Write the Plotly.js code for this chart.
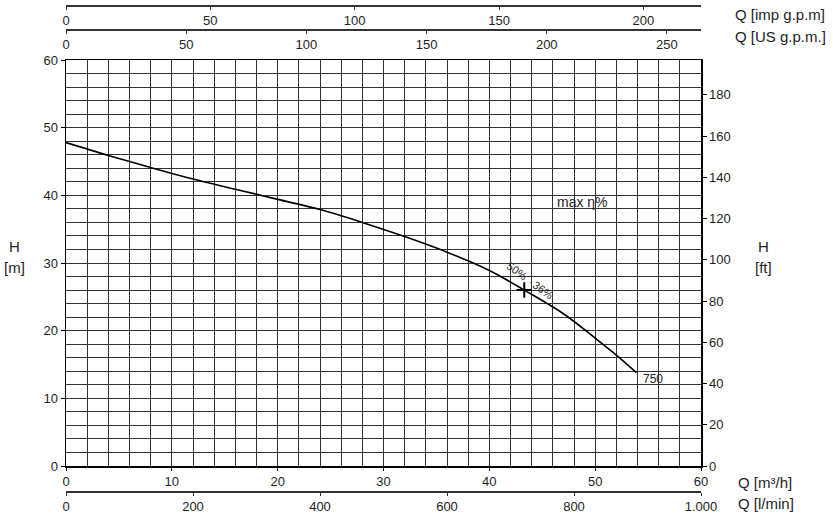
<!DOCTYPE html>
<html>
<head>
<meta charset="utf-8">
<script src="https://cdn.plot.ly/plotly-3.0.1.min.js"></script>
<style>html,body{margin:0;padding:0;background:#fff}#chart{width:833px;height:514px}</style>
</head>
<body>
<div id="chart"></div>
<script>
// Pump curve data (Q in m3/h, H in m)
var flowQ = [0, 4, 8, 12, 16, 20, 24, 28, 32, 36, 40, 43.3, 47, 50, 52, 53.9];
var headH = [47.8, 45.9, 44.1, 42.4, 40.9, 39.4, 37.9, 36.0, 33.9, 31.6, 28.9, 26.0, 22.5, 18.9, 16.4, 13.8];
var bepQ = [43.3];
var bepH = [26.0];

// Axis ranges / tick labels
var qMax = 60;            // m3/h
var hMax = 60;            // m
var ftMax = 60 * 3.28084; // ft
var impMax = 60 * 1000 / 60 / 4.54609; // imp gpm at 60 m3/h
var usMax = 60 * 1000 / 60 / 3.78541;  // US gpm at 60 m3/h
var lminMax = 1000;
var impTicks = [0, 50, 100, 150, 200];
var usTicks = [0, 50, 100, 150, 200, 250];
var lminTicks = [0, 200, 400, 600, 800, 1000];
var lminTickText = ['0', '200', '400', '600', '800', '1.000'];
var ftTicks = [0, 20, 40, 60, 80, 100, 120, 140, 160, 180];

var W = 833, H = 514, L = 66, R = 132;
function px(x) { return (x - L) / (W - L - R); }
function py(y) { return (H - y) / H; }

var FONT = 'Liberation Sans, Arial, Helvetica, sans-serif';
var TXT = '#1e1e24';
var GRID = '#333333';
var tickFont = {family: FONT, size: 13, color: TXT};

var traces = [
  {x: flowQ, y: headH, type: 'scatter', mode: 'lines', line: {color: '#000', width: 1.6, shape: 'spline', smoothing: 1}, xaxis: 'x', yaxis: 'y', showlegend: false, hoverinfo: 'skip'},
  {x: bepQ, y: bepH, type: 'scatter', mode: 'markers', marker: {symbol: 'cross-thin', size: 11, line: {color: '#000', width: 2}}, xaxis: 'x', yaxis: 'y', showlegend: false, hoverinfo: 'skip'},
  {x: [], y: [], type: 'scatter', xaxis: 'x2', yaxis: 'y', showlegend: false},
  {x: [], y: [], type: 'scatter', xaxis: 'x3', yaxis: 'y', showlegend: false},
  {x: [], y: [], type: 'scatter', xaxis: 'x4', yaxis: 'y', showlegend: false},
  {x: [], y: [], type: 'scatter', xaxis: 'x', yaxis: 'y2', showlegend: false}
];

var yDom = [py(466), py(60)];

function ann(text, x, y, xanchor, size, extra) {
  var a = {text: text, xref: 'paper', yref: 'paper', x: px(x), y: py(y), xanchor: xanchor, yanchor: 'middle', showarrow: false, font: {family: FONT, size: size, color: TXT}};
  if (extra) for (var k in extra) a[k] = extra[k];
  return a;
}

var layout = {
  width: W, height: H,
  margin: {l: L, r: R, t: 0, b: 0, pad: 0},
  paper_bgcolor: '#fff', plot_bgcolor: '#fff',
  hovermode: false,
  xaxis: {
    range: [0, qMax], domain: [0, 1], anchor: 'y',
    tickvals: [0, 10, 20, 30, 40, 50, 60],
    showgrid: true, gridcolor: GRID, gridwidth: 1,
    minor: {dtick: 2, showgrid: true, gridcolor: GRID, gridwidth: 1, ticks: ''},
    showline: true, linecolor: '#000', linewidth: 1.5, mirror: true,
    ticks: 'outside', ticklen: 3, tickcolor: '#000',
    tickfont: tickFont, zeroline: false, fixedrange: true
  },
  xaxis2: {
    range: [0, impMax], overlaying: 'x', anchor: 'free', position: py(5), side: 'bottom',
    tickvals: impTicks, showgrid: false, showline: true, linecolor: '#333', linewidth: 1.5,
    ticks: 'outside', ticklen: 3, tickcolor: '#333', tickfont: tickFont, zeroline: false
  },
  xaxis3: {
    range: [0, usMax], overlaying: 'x', anchor: 'free', position: py(29), side: 'bottom',
    tickvals: usTicks, showgrid: false, showline: true, linecolor: '#333', linewidth: 1.5,
    ticks: 'outside', ticklen: 3, tickcolor: '#333', tickfont: tickFont, zeroline: false
  },
  xaxis4: {
    range: [0, lminMax], overlaying: 'x', anchor: 'free', position: py(491), side: 'bottom',
    tickvals: lminTicks, ticktext: lminTickText, showgrid: false, showline: true, linecolor: '#333', linewidth: 1.5,
    ticks: 'outside', ticklen: 3, tickcolor: '#333', tickfont: tickFont, zeroline: false
  },
  yaxis: {
    range: [0, hMax], domain: yDom, anchor: 'x',
    tickvals: [0, 10, 20, 30, 40, 50, 60],
    showgrid: true, gridcolor: GRID, gridwidth: 1,
    minor: {dtick: 2, showgrid: true, gridcolor: GRID, gridwidth: 1, ticks: ''},
    showline: true, linecolor: '#000', linewidth: 1.5,
    ticks: 'outside', ticklen: 4, tickcolor: '#000',
    tickfont: tickFont, zeroline: false, fixedrange: true
  },
  yaxis2: {
    range: [0, ftMax], overlaying: 'y', side: 'right', anchor: 'x',
    tickvals: ftTicks, showgrid: false, showline: true, linecolor: '#000', linewidth: 1.5,
    ticks: 'outside', ticklen: 4, tickcolor: '#000', tickfont: tickFont, zeroline: false
  },
  annotations: [
    ann('Q [imp g.p.m]', 733, 14, 'left', 15),
    ann('Q [US g.p.m.]', 733, 37, 'left', 15),
    ann('Q [m\u00b3/h]', 736, 482, 'left', 15),
    ann('Q [l/min]', 736, 503, 'left', 15),
    ann('H', 14, 247, 'center', 15),
    ann('[m]', 14, 268, 'center', 15),
    ann('H', 763, 247, 'center', 15),
    ann('[ft]', 763, 268, 'center', 15),
    ann('max \u03b7%', 555, 202, 'left', 14),
    ann('750', 641, 379, 'left', 12),
    ann('50%', 517, 271, 'center', 11, {textangle: 36}),
    ann('36%', 543, 290, 'center', 11, {textangle: 36}),
    ann('-', 531, 282, 'center', 9, {textangle: 36})
  ]
};

Plotly.newPlot('chart', traces, layout, {staticPlot: true, displayModeBar: false});
</script>
</body>
</html>
